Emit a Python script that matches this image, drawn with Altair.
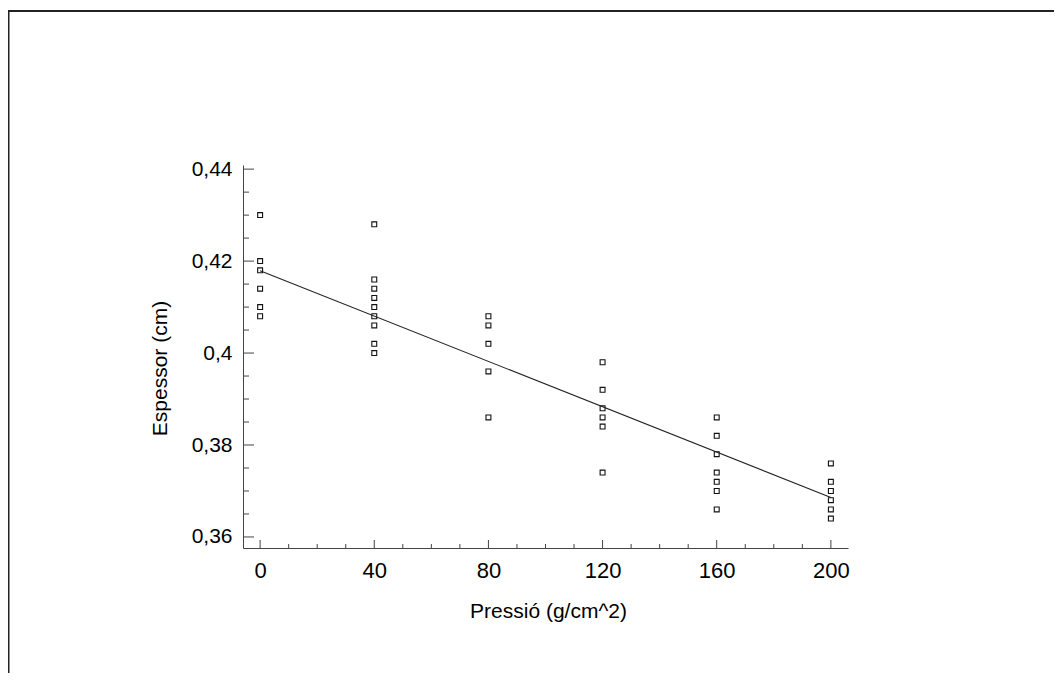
import altair as alt
import pandas as pd

# ---- data ----
pressio_levels = [0, 40, 80, 120, 160, 200]
esp_p0 = [0.430, 0.420, 0.418, 0.414, 0.410, 0.408]
esp_p40 = [0.428, 0.416, 0.414, 0.412, 0.410, 0.408, 0.406, 0.402, 0.400]
esp_p80 = [0.408, 0.406, 0.402, 0.396, 0.386]
esp_p120 = [0.398, 0.392, 0.388, 0.386, 0.384, 0.374]
esp_p160 = [0.386, 0.382, 0.378, 0.374, 0.372, 0.370, 0.366]
esp_p200 = [0.376, 0.372, 0.370, 0.368, 0.366, 0.364]

fit_x = [0, 200]
fit_y = [0.4179, 0.3686]

x_major_ticks = [0, 40, 80, 120, 160, 200]
x_minor_ticks = [10, 20, 30, 50, 60, 70, 90, 100, 110, 130, 140, 150, 170, 180, 190]
y_major_ticks = [0.36, 0.38, 0.40, 0.42, 0.44]
y_minor_ticks = [0.365, 0.37, 0.375, 0.385, 0.39, 0.395, 0.405, 0.41, 0.415, 0.425, 0.43, 0.435]

groups = [esp_p0, esp_p40, esp_p80, esp_p120, esp_p160, esp_p200]
rows = []
for p, vals in zip(pressio_levels, groups):
    for v in vals:
        rows.append({"p": p, "e": v})
df_pts = pd.DataFrame(rows)
df_fit = pd.DataFrame({"p": fit_x, "e": fit_y})
df_xmaj = pd.DataFrame({"p": x_major_ticks})
df_xmin = pd.DataFrame({"p": x_minor_ticks})
df_ymaj = pd.DataFrame({"e": y_major_ticks})
df_ymin = pd.DataFrame({"e": y_minor_ticks})
df_one = pd.DataFrame({"k": [0]})

FONT = "Liberation Sans"
W, H = 605, 383
PL, PT = 235, 157
TOTW, TOTH = 1046, 665

xscale = alt.Scale(domain=[-6, 206], nice=False, zero=False)
yscale = alt.Scale(domain=[0.3576, 0.4409], nice=False, zero=False)

x_axis = alt.Axis(
    values=x_major_ticks, ticks=False, grid=False,
    domainColor="#444", domainWidth=1,
    labelFont=FONT, labelFontSize=22, labelColor="black", labelPadding=12,
    title="Pressió (g/cm^2)", titleFont=FONT, titleFontSize=21,
    titleFontWeight="normal", titleColor="black",
    titleX=305, titleY=69, titleAlign="center", titleBaseline="alphabetic",
)
y_axis = alt.Axis(
    values=y_major_ticks, ticks=False, grid=False,
    domainColor="#444", domainWidth=1,
    labelExpr="replace(format(datum.value, '.2~f'), '.', ',')",
    labelFont=FONT, labelFontSize=21, labelColor="black", labelPadding=11,
    title="Espessor (cm)", titleFont=FONT, titleFontSize=21,
    titleFontWeight="normal", titleColor="black",
    titleX=-77, titleY=203, titleAlign="center", titleBaseline="alphabetic",
)

X = alt.X("p:Q", scale=xscale, axis=x_axis)
Y = alt.Y("e:Q", scale=yscale, axis=y_axis)

points = alt.Chart(df_pts).mark_point(
    shape="square", filled=False, size=24, color="#111", strokeWidth=1.1, opacity=1
).encode(x=X, y=Y)

fit = alt.Chart(df_fit).mark_line(color="#222", strokeWidth=1.1).encode(x=X, y=Y)

tick_color = "#444"
xmaj = alt.Chart(df_xmaj).mark_rule(color=tick_color, strokeWidth=1).encode(
    x=X, y=alt.value(H), y2=alt.value(H - 8),
)
xmin = alt.Chart(df_xmin).mark_rule(color=tick_color, strokeWidth=1).encode(
    x=X, y=alt.value(H), y2=alt.value(H - 4),
)
ymaj = alt.Chart(df_ymaj).mark_rule(color=tick_color, strokeWidth=1).encode(
    y=Y, x=alt.value(0), x2=alt.value(11),
)
ymin = alt.Chart(df_ymin).mark_rule(color=tick_color, strokeWidth=1).encode(
    y=Y, x=alt.value(0), x2=alt.value(6),
)

frame_top = alt.Chart(df_one).mark_rule(color="#222", strokeWidth=2).encode(
    x=alt.value(-PL), x2=alt.value(TOTW - PL), y=alt.value(3 - PT),
)
frame_left = alt.Chart(df_one).mark_rule(color="#222", strokeWidth=2).encode(
    x=alt.value(0.5 - PL), y=alt.value(3 - PT), y2=alt.value(TOTH - PT),
)

chart = alt.layer(
    points, fit, xmin, xmaj, ymin, ymaj, frame_top, frame_left
).properties(
    width=W, height=H,
    autosize=alt.AutoSizeParams(type="none"),
    padding={"left": PL, "top": PT, "right": TOTW - PL - W, "bottom": TOTH - PT - H},
    background="white",
).configure_view(stroke=None)

chart.save("out.html", embed_options={"renderer": "svg", "actions": False})
